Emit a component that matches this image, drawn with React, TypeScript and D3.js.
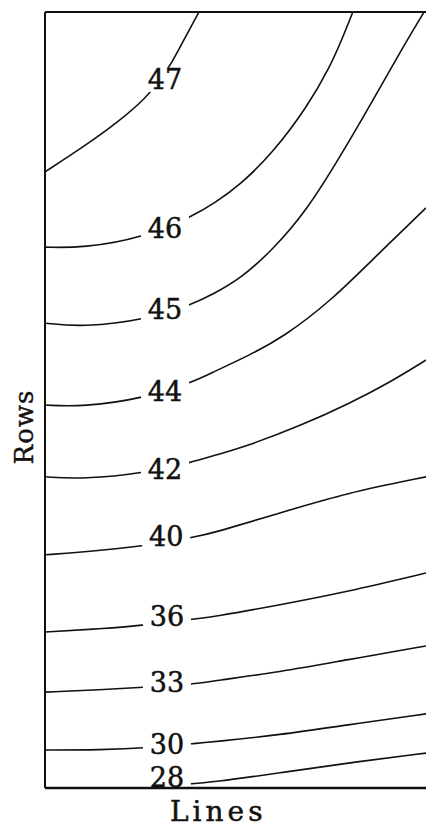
import * as d3 from 'd3';
import React from 'react';

const width = 426;
const height = 827;
const margin = { top: 12, right: 0, bottom: 39, left: 45 };

// contour levels, top-left to bottom
const levels = [47, 46, 45, 44, 42, 40, 36, 33, 30, 28];

// each contour as [lines, rows] readings (lines 0..100, rows 0..200)
const c47: [number, number][] = [
  [0, 158.8], [10.0, 165.2], [18.9, 171.4], [26.8, 178.1], [30.2, 182.5],
  [33.3, 186.9], [36.7, 193.3], [40.4, 200],
];
const c46: [number, number][] = [
  [0, 139.4], [10.0, 139.2], [25.7, 141.8], [39.4, 147.7], [44.1, 150.5],
  [51.2, 155.4], [59.8, 163.7], [68.8, 175.5], [74.8, 185.8], [78.2, 193.6],
  [80.8, 200],
];
const c45: [number, number][] = [
  [0, 119.8], [10.0, 118.8], [26.2, 120.6], [38.8, 124.7], [44.1, 127.3],
  [51.2, 131.2], [59.8, 138.7], [68.8, 149.0], [77.4, 162.6], [86.1, 177.3],
  [93.2, 189.7], [99.5, 200],
];
const c44: [number, number][] = [
  [0, 98.7], [10.0, 98.2], [26.2, 100.5], [38.8, 104.6], [44.1, 107.2],
  [53.8, 111.6], [62.5, 116.2], [74.8, 125.3], [87.4, 137.6], [100, 149.5],
];
const c42: [number, number][] = [
  [0, 80.2], [10.0, 79.6], [26.2, 81.2], [38.8, 84.0], [44.1, 85.6],
  [53.8, 88.4], [66.9, 93.3], [80.1, 99.2], [90.6, 104.6], [100, 110.3],
];
const c40: [number, number][] = [
  [0, 60.1], [10.0, 60.8], [26.5, 62.4], [39.4, 64.7], [44.1, 65.7],
  [61.7, 70.9], [79.0, 76.0], [100, 80.2],
];
const c36: [number, number][] = [
  [0, 40.2], [14.4, 41.0], [27.0, 42.0], [39.4, 43.6], [44.1, 44.1],
  [61.7, 47.2], [79.0, 50.5], [100, 55.4],
];
const c33: [number, number][] = [
  [0, 24.7], [14.4, 25.3], [27.0, 26.0], [39.4, 26.8], [44.1, 27.6],
  [61.7, 29.9], [79.0, 33.0], [100, 36.6],
];
const c30: [number, number][] = [
  [0, 9.8], [14.4, 9.8], [27.0, 10.3], [40.7, 11.6], [44.1, 11.9],
  [61.7, 13.7], [79.0, 16.2], [100, 19.1],
];
const c28: [number, number][] = [
  [27.6, 0.3], [36.7, 1.0], [44.1, 1.5], [61.7, 3.9], [79.0, 6.4], [100, 9.0],
];
const contours = [c47, c46, c45, c44, c42, c40, c36, c33, c30, c28];

// where each level's label sits (lines, rows)
const labelLines = [31.5, 31.5, 31.5, 31.5, 31.5, 31.8, 32.0, 32.0, 32.0, 32.0];
const labelRows = [182.5, 144.3, 123.2, 102.3, 82.0, 64.9, 44.1, 27.3, 11.1, 2.8];

export default function App() {
  const x = d3.scaleLinear().domain([0, 100]).range([margin.left, width - margin.right]);
  const y = d3.scaleLinear().domain([0, 200]).range([height - margin.bottom, margin.top]);

  const line = d3
    .line<[number, number]>()
    .x(d => x(d[0]))
    .y(d => y(d[1]))
    .curve(d3.curveBasis);

  const font = "'DejaVu Serif', serif";

  return (
    <svg
      width={width}
      height={height}
      style={{ position: 'absolute', left: 0, top: 0, background: '#fff' }}
    >
      <rect width={width} height={height} fill="#fff" />
      <g fill="none" stroke="#111" strokeWidth={1.6}>
        {contours.map((c, i) => (
          <path key={i} d={line(c) || ''} />
        ))}
      </g>
      <g>
        {levels.map((lv, i) => (
          <g key={lv} transform={`translate(${x(labelLines[i])},${y(labelRows[i])})`}>
            <rect x={-24} y={-12} width={48} height={24} fill="#fff" />
            <text
              textAnchor="middle"
              dominantBaseline="central"
              fontFamily={font}
              fontSize={27}
              fill="#111"
              stroke="#111"
              strokeWidth={0.5}
            >
              {lv}
            </text>
          </g>
        ))}
      </g>
      <g stroke="#111" fill="none">
        <line x1={x(0)} x2={x(100)} y1={y(200)} y2={y(200)} strokeWidth={2} />
        <line x1={x(0)} x2={x(0)} y1={y(200)} y2={y(0)} strokeWidth={2} />
        <line x1={x(0)} x2={x(100)} y1={y(0)} y2={y(0)} strokeWidth={2.5} />
      </g>
      <text
        x={170}
        y={821}
        fontFamily={font}
        fontSize={28}
        letterSpacing={4}
        fill="#111"
        stroke="#111"
        strokeWidth={0.5}
      >
        Lines
      </text>
      <text
        transform="translate(33,427) rotate(-90)"
        textAnchor="middle"
        fontFamily={font}
        fontSize={26}
        letterSpacing={1}
        fill="#111"
        stroke="#111"
        strokeWidth={0.4}
      >
        Rows
      </text>
    </svg>
  );
}
